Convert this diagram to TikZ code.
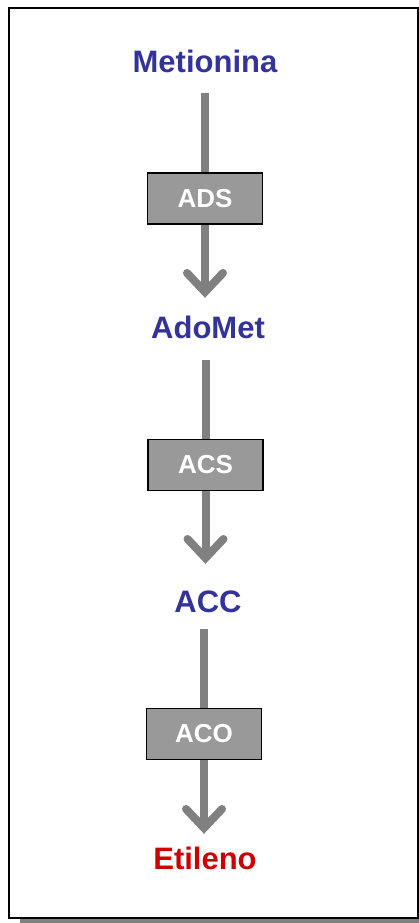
\documentclass[tikz,border=0pt]{standalone}
\usepackage{fontspec}
\setmainfont{Liberation Sans}
\usetikzlibrary{arrows.meta}

\definecolor{pathblue}{HTML}{333399}
\definecolor{pathred}{HTML}{CC0000}
\definecolor{enzgray}{HTML}{999999}
\definecolor{shaftgray}{HTML}{808080}

\begin{document}
\begin{tikzpicture}[x=1pt, y=-1pt,
    compound/.style={font=\fontsize{31}{34}\selectfont\bfseries, text=pathblue,
                     inner sep=0pt, text height=22pt, text depth=0pt},
    enzyme/.style={draw=black, line width=1.3pt, fill=enzgray, minimum width=115pt,
                   minimum height=51pt, inner sep=0pt, text=white,
                   font=\fontsize{26}{30}\selectfont\bfseries},
    shaft/.style={draw=shaftgray, line width=8pt},
    pointer/.style={shaft, -{Straight Barb[length=19pt, width=36pt, line cap=round, line join=miter]}}]
    \useasboundingbox (0,0) rectangle (419,923);

    % Frame with shadow
    \fill[shaftgray] (20,912) rectangle (430,923);
    \draw[line width=1.5pt, fill=white] (9,8) rectangle (418,918);

    % Compounds
    \node[compound, anchor=base] (met) at (205,73) {Metionina};
    \node[compound, anchor=base] (adomet) at (208,338) {AdoMet};
    \node[compound, anchor=base] (acc) at (208,612) {ACC};
    \node[compound, anchor=base, text=pathred] (eti) at (205,869) {Etileno};

    % Enzymes
    \node[enzyme] (ads) at (205,198.5) {ADS};
    \node[enzyme] (acs) at (205.5,465) {ACS};
    \node[enzyme] (aco) at (204,734) {ACO};

    % Pathway steps
    \draw[shaft, shorten <=20pt] (met.south -| ads) -- (ads.north);
    \draw[pointer, shorten >=18pt] (ads.south) -- (ads.south |- adomet.north);
    \draw[shaft, shorten <=22pt] (adomet.south -| acs) -- (acs.north);
    \draw[pointer, shorten >=26pt] (acs.south) -- (acs.south |- acc.north);
    \draw[shaft, shorten <=17pt] (acc.south -| aco) -- (aco.north);
    \draw[pointer, shorten >=13pt] (aco.south) -- (aco.south |- eti.north);
\end{tikzpicture}
\end{document}
